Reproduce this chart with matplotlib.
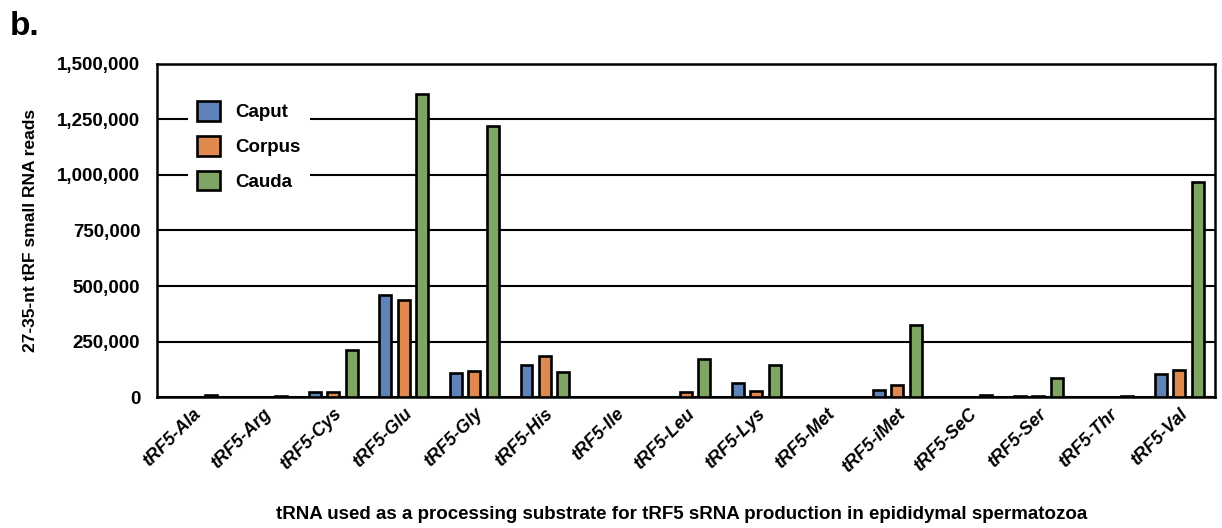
import matplotlib.pyplot as plt
import numpy as np
from matplotlib.ticker import FuncFormatter

plt.rcParams['font.family'] = ['Liberation Sans', 'DejaVu Sans']

trnas = ["tRF5-Ala", "tRF5-Arg", "tRF5-Cys", "tRF5-Glu", "tRF5-Gly", "tRF5-His",
         "tRF5-Ile", "tRF5-Leu", "tRF5-Lys", "tRF5-Met", "tRF5-iMet", "tRF5-SeC",
         "tRF5-Ser", "tRF5-Thr", "tRF5-Val"]
caput = [1000, 1000, 24000, 459000, 108000, 144000, 2000, 1000, 63000, 2000,
         31000, 2000, 3000, 2000, 104000]
corpus = [1000, 1000, 22000, 437000, 117000, 185000, 2000, 22000, 29000, 2000,
          56000, 2000, 4000, 2000, 122000]
cauda = [10000, 6000, 212000, 1365000, 1221000, 113000, 2000, 171000, 144000, 2000,
         324000, 9000, 87000, 5000, 968000]

series = [("Caput", caput, "#5f82b9"),
          ("Corpus", corpus, "#de8a4f"),
          ("Cauda", cauda, "#7ea563")]

fig = plt.figure(figsize=(12.22, 5.28), dpi=100)
ax = fig.add_axes([0.1285, 0.248, 0.8655, 0.631])

x = np.arange(len(trnas))
w = 0.17
off = 0.26
for i, (name, vals, col) in enumerate(series):
    ax.bar(x + (i - 1) * off, vals, w, color=col, edgecolor="black",
           linewidth=1.9, label=name, zorder=3)

ax.set_xlim(-0.5, len(trnas) - 0.5)
ax.set_ylim(0, 1500000)
ax.set_yticks(np.arange(0, 1500001, 250000))
ax.yaxis.set_major_formatter(FuncFormatter(lambda v, p: f"{int(v):,}"))
ax.grid(axis="y", color="black", linewidth=1.5, zorder=0)
for s in ax.spines.values():
    s.set_linewidth(1.8)
ax.tick_params(axis="y", length=0, pad=12)
ax.tick_params(axis="x", length=0, pad=6)
for t in ax.get_yticklabels():
    t.set_fontsize(13.5)
    t.set_fontweight("bold")

ax.set_xticks(x)
ax.set_xticklabels(trnas, rotation=45, ha="right", rotation_mode="anchor",
                   fontsize=13, fontweight="bold", fontstyle="italic")

ax.set_ylabel("27-35-nt tRF small RNA reads", fontsize=12.5, fontweight="bold",
              labelpad=14)
fig.text(0.558, 0.025, "tRNA used as a processing substrate for tRF5 sRNA production in epididymal spermatozoa",
         ha="center", va="center", fontsize=13.5, fontweight="bold")
fig.text(0.008, 0.95, "b.", fontsize=24, fontweight="bold", va="center")

leg = ax.legend(loc="upper left", bbox_to_anchor=(0.02, 0.945), frameon=True,
                edgecolor="white", facecolor="white", framealpha=1,
                fontsize=13.5, handlelength=1.25, handleheight=1.25,
                labelspacing=0.78, borderpad=0.5, handletextpad=0.8)
for t in leg.get_texts():
    t.set_fontweight("bold")
leg.get_frame().set_linewidth(0)
leg.set_zorder(5)

fig.savefig("out.png", dpi=100)
